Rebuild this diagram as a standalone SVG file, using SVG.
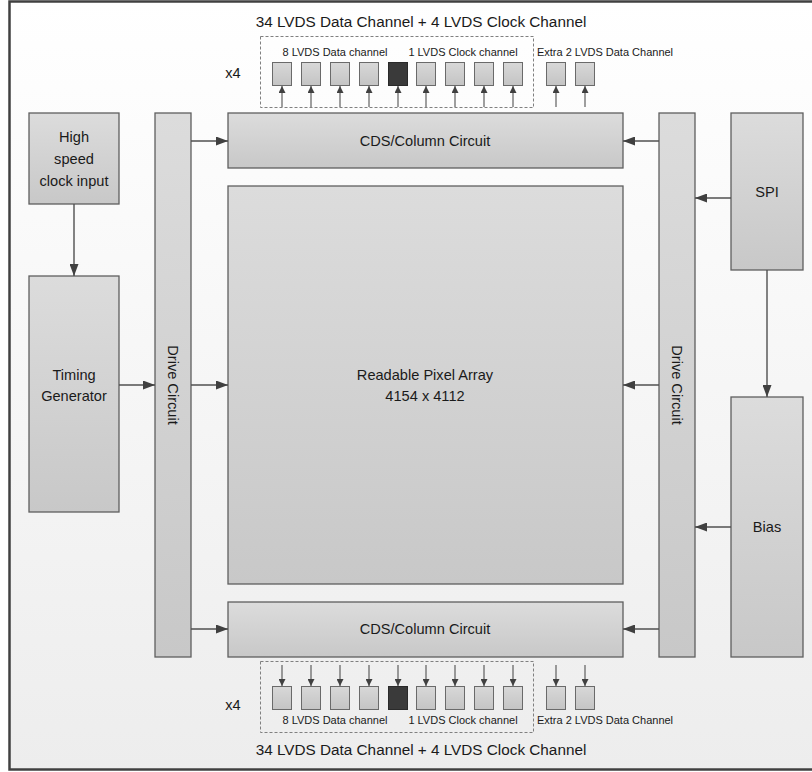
<svg xmlns="http://www.w3.org/2000/svg" width="812" height="772" viewBox="0 0 812 772">
<defs>
<linearGradient id="bg" x1="0" y1="0" x2="0" y2="1"><stop offset="0" stop-color="#ffffff"/><stop offset="1" stop-color="#ededed"/></linearGradient>
<linearGradient id="box" x1="0" y1="0" x2="0" y2="1"><stop offset="0" stop-color="#dcdcdc"/><stop offset="1" stop-color="#c8c8c8"/></linearGradient>
<linearGradient id="sm" x1="0" y1="0" x2="0" y2="1"><stop offset="0" stop-color="#d8d8d8"/><stop offset="1" stop-color="#c4c4c4"/></linearGradient>
<marker id="ah" viewBox="0 0 12 9" refX="12" refY="4.5" markerWidth="12" markerHeight="9" markerUnits="userSpaceOnUse" orient="auto"><path d="M0,0 L12,4.5 L0,9 z" fill="#404040"/></marker>
<marker id="as" viewBox="0 0 8 8" refX="8" refY="4" markerWidth="8" markerHeight="7" markerUnits="userSpaceOnUse" orient="auto"><path d="M0,0 L8,4 L0,8 z" fill="#404040"/></marker>
</defs>
<style>
.b{fill:url(#box);stroke:#5f5f5f;stroke-width:1.3}
.s{fill:url(#sm);stroke:#6a6a6a;stroke-width:1}
.d{fill:#3a3a3a;stroke:#2a2a2a;stroke-width:1}
.t{font-family:"Liberation Sans",Arial,sans-serif;font-size:14.6px;fill:#1a1a1a;text-anchor:middle;dominant-baseline:central}
.lb{font-family:"Liberation Sans",Arial,sans-serif;font-size:11px;fill:#1a1a1a;text-anchor:middle;dominant-baseline:central}
.ti{font-family:"Liberation Sans",Arial,sans-serif;font-size:15.3px;fill:#1a1a1a;text-anchor:middle;dominant-baseline:central}
.c{stroke:#505050;stroke-width:1.4;fill:none;marker-end:url(#ah)}
.cs{stroke:#505050;stroke-width:1.1;fill:none;marker-end:url(#as)}
.dash{fill:none;stroke:#808080;stroke-width:1;stroke-dasharray:3,2}
</style>
<rect x="9.5" y="1.5" width="812" height="768" fill="url(#bg)" stroke="#404040" stroke-width="2.5"/>

<g id="hsc"><rect class="b" x="29" y="113" width="90" height="91"/><text class="t" x="74" y="137">High</text><text class="t" x="74" y="159">speed</text><text class="t" x="74" y="181">clock input</text></g>
<g id="timing"><rect class="b" x="29" y="276" width="90" height="236"/><text class="t" x="74" y="375">Timing</text><text class="t" x="74" y="396">Generator</text></g>
<g id="drive-left"><rect class="b" x="155" y="113" width="36" height="544"/><text class="t" transform="translate(173,385) rotate(90)">Drive Circuit</text></g>
<g id="cds-top"><rect class="b" x="228" y="113" width="395" height="55"/><text class="t" x="425" y="141">CDS/Column Circuit</text></g>
<g id="pixel"><rect class="b" x="228" y="186" width="395" height="398"/><text class="t" x="425" y="375">Readable Pixel Array</text><text class="t" x="425" y="396">4154 x 4112</text></g>
<g id="cds-bottom"><rect class="b" x="228" y="602" width="395" height="55"/><text class="t" x="425" y="629">CDS/Column Circuit</text></g>
<g id="drive-right"><rect class="b" x="659" y="113" width="36" height="544"/><text class="t" transform="translate(677,385) rotate(90)">Drive Circuit</text></g>
<g id="spi"><rect class="b" x="731" y="113" width="72" height="157"/><text class="t" x="767" y="192">SPI</text></g>
<g id="bias"><rect class="b" x="731" y="397" width="72" height="260"/><text class="t" x="767" y="527">Bias</text></g>

<g id="lvds-top">
<text class="ti" x="421" y="21">34  LVDS Data Channel + 4 LVDS Clock Channel</text>
<rect class="dash" x="260.5" y="36.5" width="273" height="71"/>
<text class="lb" x="335" y="52">8 LVDS Data channel</text>
<text class="lb" x="463" y="52">1 LVDS Clock channel</text>
<text class="lb" x="605" y="52">Extra 2 LVDS Data Channel</text>
<text class="t" x="233" y="73">x4</text>
<rect class="s" x="272.5" y="62.5" width="19" height="23"/>
<rect class="s" x="301.5" y="62.5" width="19" height="23"/>
<rect class="s" x="330.5" y="62.5" width="19" height="23"/>
<rect class="s" x="359.5" y="62.5" width="19" height="23"/>
<rect class="d" x="388.5" y="62.5" width="19" height="23"/>
<rect class="s" x="416.5" y="62.5" width="19" height="23"/>
<rect class="s" x="445.5" y="62.5" width="19" height="23"/>
<rect class="s" x="474.5" y="62.5" width="19" height="23"/>
<rect class="s" x="503.5" y="62.5" width="19" height="23"/>
<rect class="s" x="546.5" y="62.5" width="19" height="23"/>
<rect class="s" x="575.5" y="62.5" width="19" height="23"/>
</g>

<g id="lvds-bottom">
<text class="ti" x="421" y="749">34  LVDS Data Channel + 4 LVDS Clock Channel</text>
<rect class="dash" x="260.5" y="661.5" width="273" height="71"/>
<text class="lb" x="335" y="720">8 LVDS Data channel</text>
<text class="lb" x="463" y="720">1 LVDS Clock channel</text>
<text class="lb" x="605" y="720">Extra 2 LVDS Data Channel</text>
<text class="t" x="233" y="705">x4</text>
<rect class="s" x="272.5" y="686.5" width="19" height="23"/>
<rect class="s" x="301.5" y="686.5" width="19" height="23"/>
<rect class="s" x="330.5" y="686.5" width="19" height="23"/>
<rect class="s" x="359.5" y="686.5" width="19" height="23"/>
<rect class="d" x="388.5" y="686.5" width="19" height="23"/>
<rect class="s" x="416.5" y="686.5" width="19" height="23"/>
<rect class="s" x="445.5" y="686.5" width="19" height="23"/>
<rect class="s" x="474.5" y="686.5" width="19" height="23"/>
<rect class="s" x="503.5" y="686.5" width="19" height="23"/>
<rect class="s" x="546.5" y="686.5" width="19" height="23"/>
<rect class="s" x="575.5" y="686.5" width="19" height="23"/>
</g>

<g id="connectors">
<line class="c" x1="74" y1="204" x2="74" y2="276"/>
<line class="c" x1="119" y1="385" x2="155" y2="385"/>
<line class="c" x1="191" y1="141" x2="228" y2="141"/>
<line class="c" x1="191" y1="385" x2="228" y2="385"/>
<line class="c" x1="191" y1="629" x2="228" y2="629"/>
<line class="c" x1="659" y1="141" x2="623" y2="141"/>
<line class="c" x1="659" y1="385" x2="623" y2="385"/>
<line class="c" x1="659" y1="629" x2="623" y2="629"/>
<line class="c" x1="731" y1="198" x2="695" y2="198"/>
<line class="c" x1="767" y1="270" x2="767" y2="397"/>
<line class="c" x1="731" y1="527" x2="695" y2="527"/>
<line class="cs" x1="282" y1="107" x2="282" y2="86"/>
<line class="cs" x1="311" y1="107" x2="311" y2="86"/>
<line class="cs" x1="340" y1="107" x2="340" y2="86"/>
<line class="cs" x1="369" y1="107" x2="369" y2="86"/>
<line class="cs" x1="398" y1="107" x2="398" y2="86"/>
<line class="cs" x1="426" y1="107" x2="426" y2="86"/>
<line class="cs" x1="455" y1="107" x2="455" y2="86"/>
<line class="cs" x1="484" y1="107" x2="484" y2="86"/>
<line class="cs" x1="513" y1="107" x2="513" y2="86"/>
<line class="cs" x1="556" y1="107" x2="556" y2="86"/>
<line class="cs" x1="585" y1="107" x2="585" y2="86"/>
<line class="cs" x1="282" y1="665" x2="282" y2="686"/>
<line class="cs" x1="311" y1="665" x2="311" y2="686"/>
<line class="cs" x1="340" y1="665" x2="340" y2="686"/>
<line class="cs" x1="369" y1="665" x2="369" y2="686"/>
<line class="cs" x1="398" y1="665" x2="398" y2="686"/>
<line class="cs" x1="426" y1="665" x2="426" y2="686"/>
<line class="cs" x1="455" y1="665" x2="455" y2="686"/>
<line class="cs" x1="484" y1="665" x2="484" y2="686"/>
<line class="cs" x1="513" y1="665" x2="513" y2="686"/>
<line class="cs" x1="556" y1="665" x2="556" y2="686"/>
<line class="cs" x1="585" y1="665" x2="585" y2="686"/>
</g>
</svg>
